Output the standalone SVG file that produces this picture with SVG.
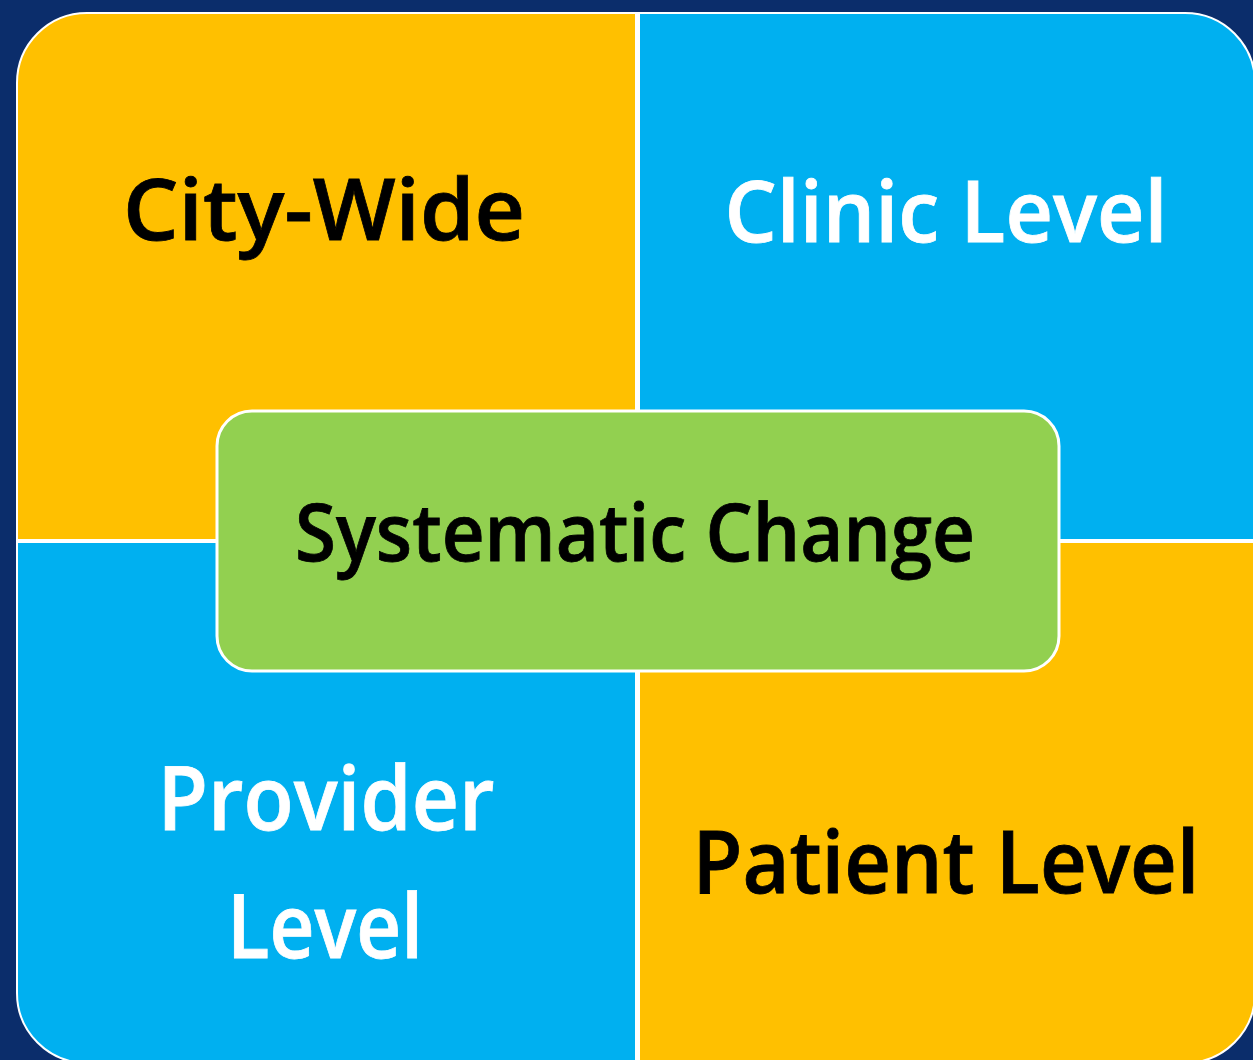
<svg xmlns="http://www.w3.org/2000/svg" width="1253" height="1060" viewBox="0 0 1253 1060">
  <style>
    .lbl { font-family: "Open Sans", "Noto Sans", "Liberation Sans", sans-serif; font-weight: 600; text-anchor: middle; }
    .dark { fill: #000000; }
    .light { fill: #FFFFFF; }
    .yellow { fill: #FFC000; }
    .blue { fill: #00B0F0; }
  </style>
  <defs>
    <clipPath id="outer">
      <rect x="17" y="13" width="1238" height="1050" rx="70" ry="70"/>
    </clipPath>
  </defs>
  <rect x="0" y="0" width="1253" height="1060" fill="#0B2D6B"/>
  <g clip-path="url(#outer)">
    <rect x="17" y="13" width="1238" height="1050" fill="#FFFFFF"/>
    <g id="city-wide">
      <rect class="yellow" x="17" y="13" width="618" height="526"/>
      <text class="lbl dark" x="324" y="240" font-size="85" textLength="402" lengthAdjust="spacingAndGlyphs" stroke="#000000" stroke-width="0.8">City-Wide</text>
    </g>
    <g id="clinic-level">
      <rect class="blue" x="640" y="13" width="615" height="526"/>
      <text class="lbl light" x="946" y="242" font-size="85" textLength="443" lengthAdjust="spacingAndGlyphs" stroke="#FFFFFF" stroke-width="0.8">Clinic Level</text>
    </g>
    <g id="provider-level">
      <rect class="blue" x="17" y="543" width="618" height="520"/>
      <text class="lbl light" x="326" y="830" font-size="88" textLength="337" lengthAdjust="spacingAndGlyphs" stroke="#FFFFFF" stroke-width="0.8">Provider</text>
      <text class="lbl light" x="325" y="958" font-size="88" textLength="196" lengthAdjust="spacingAndGlyphs" stroke="#FFFFFF" stroke-width="0.8">Level</text>
    </g>
    <g id="patient-level">
      <rect class="yellow" x="640" y="543" width="615" height="520"/>
      <text class="lbl dark" x="946" y="893" font-size="86" textLength="507" lengthAdjust="spacingAndGlyphs" stroke="#000000" stroke-width="0.8">Patient Level</text>
    </g>
  </g>
  <rect x="17" y="13" width="1238" height="1050" rx="70" ry="70" fill="none" stroke="#FFFFFF" stroke-width="2"/>
  <g id="systematic-change">
    <rect x="217" y="411" width="842" height="260" rx="35" ry="35" fill="#92D050" stroke="#FFFFFF" stroke-width="3"/>
    <text class="lbl dark" x="635" y="561" font-size="80" textLength="680" lengthAdjust="spacingAndGlyphs" stroke="#000000" stroke-width="0.8">Systematic Change</text>
  </g>
  <g id="connectors"/>
</svg>
